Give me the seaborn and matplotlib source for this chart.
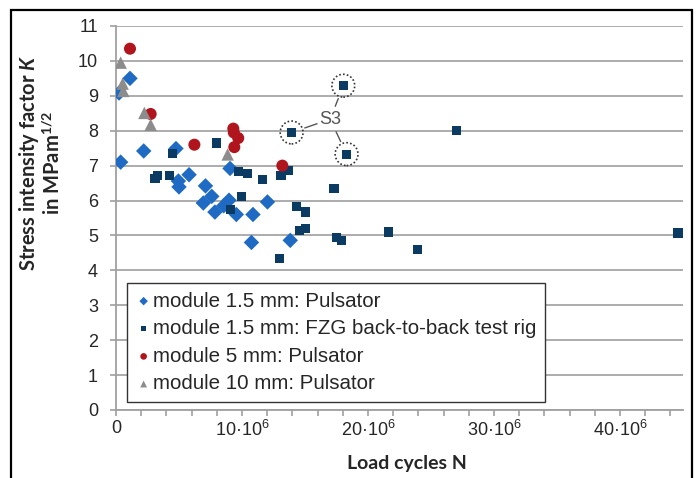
import numpy as np
import pandas as pd
import matplotlib
matplotlib.use("Agg")
import matplotlib.pyplot as plt
import matplotlib.ticker as mticker
from matplotlib.patches import Rectangle
import seaborn as sns

# Donnees (N en millions de cycles, K en MPa m^1/2)
puls15_N = [0.24, 0.37, 1.11, 2.2, 4.76, 4.95, 5.0, 5.8, 7.1, 7.6, 6.93, 7.85, 8.55,
            8.97, 9.05, 9.55, 10.87, 12.02, 10.75, 13.83]
puls15_K = [9.08, 7.10, 9.50, 7.42, 7.49, 6.56, 6.39, 6.74, 6.42, 6.12, 5.93, 5.67, 5.85,
            6.01, 6.92, 5.60, 5.60, 5.96, 4.80, 4.86]

fzg_N = [4.5, 7.98, 3.1, 3.28, 4.23, 9.72, 10.45, 11.6, 13.1, 13.7, 17.3, 9.97, 9.1,
         14.3, 15.03, 14.55, 15.05, 13.0, 17.5, 17.9, 21.6, 27.05, 23.9, 44.6,
         13.94, 18.04, 18.3]
fzg_K = [7.34, 7.65, 6.63, 6.72, 6.72, 6.84, 6.78, 6.60, 6.72, 6.86, 6.34, 6.11, 5.75,
         5.82, 5.67, 5.14, 5.20, 4.34, 4.94, 4.86, 5.10, 8.01, 4.60, 5.07,
         7.95, 9.29, 7.33]

puls5_N = [1.11, 2.75, 6.22, 9.31, 9.35, 9.7, 9.39, 13.2]
puls5_K = [10.35, 8.48, 7.60, 8.06, 7.95, 7.79, 7.53, 7.00]

puls10_N = [0.37, 0.53, 0.58, 2.25, 2.75, 8.86]
puls10_K = [9.95, 9.35, 9.14, 8.51, 8.17, 7.32]

# points S3 (entoures)
s3_N = [13.94, 18.04, 18.3]
s3_K = [7.95, 9.29, 7.33]

labels = ["module 1.5 mm: Pulsator",
          "module 1.5 mm: FZG back-to-back test rig",
          "module 5 mm: Pulsator",
          "module 10 mm: Pulsator"]

df = pd.concat([
    pd.DataFrame({"N": np.array(puls15_N) * 1e6, "K": puls15_K, "serie": labels[0]}),
    pd.DataFrame({"N": np.array(fzg_N) * 1e6, "K": fzg_K, "serie": labels[1]}),
    pd.DataFrame({"N": np.array(puls5_N) * 1e6, "K": puls5_K, "serie": labels[2]}),
    pd.DataFrame({"N": np.array(puls10_N) * 1e6, "K": puls10_K, "serie": labels[3]}),
])

sns.set_style("white")
plt.rcParams["font.family"] = ["Liberation Sans", "DejaVu Sans"]
plt.rcParams["mathtext.fontset"] = "custom"
plt.rcParams["mathtext.rm"] = "Liberation Sans"
plt.rcParams["mathtext.it"] = "Lato:italic:bold"
plt.rcParams["mathtext.bf"] = "Lato:bold"

palette = {labels[0]: "#1f6bc4", labels[1]: "#0b3a63",
           labels[2]: "#b0141c", labels[3]: "#8c8c8c"}
markers = {labels[0]: "D", labels[1]: "s", labels[2]: "o", labels[3]: "^"}
sizes = {labels[0]: 62, labels[1]: 44, labels[2]: 75, labels[3]: 80}

fig = plt.figure(figsize=(6.96, 4.78), dpi=100)
ax = fig.add_axes([116 / 696, 68 / 478, 567 / 696, 384 / 478])

for lab in labels:
    sub = df[df["serie"] == lab]
    sns.scatterplot(data=sub, x="N", y="K", color=palette[lab], marker=markers[lab],
                    s=sizes[lab], edgecolor="none", ax=ax, label=lab, zorder=3)

# cercles pointilles autour des points S3
ax.scatter(np.array(s3_N) * 1e6, s3_K, s=270, facecolors="none", edgecolors="#333333",
           linewidths=1.2, linestyles=(0, (1.0, 1.3)), zorder=4)
for n, k in zip(s3_N, s3_K):
    ax.annotate("", xy=(n * 1e6, k), xytext=(17.0e6, 8.33),
                arrowprops=dict(arrowstyle="-", color="#555555", lw=1.0,
                                shrinkA=10, shrinkB=10))
ax.text(17.0e6, 8.33, "S3", ha="center", va="center", fontsize=13, color="#555555")

ax.set_xlim(0, 45e6)
ax.set_ylim(0, 11)
ax.set_yticks(range(0, 12))
ax.xaxis.set_major_locator(mticker.MultipleLocator(10e6))
ax.xaxis.set_minor_locator(mticker.MultipleLocator(2e6))


def fmt_x(v, pos):
    if v == 0:
        return "0"
    return "%d·10$^{6}$" % round(v / 1e6)


ax.xaxis.set_major_formatter(mticker.FuncFormatter(fmt_x))
ax.grid(axis="y", color="#a6a6a6", lw=1.3)
ax.grid(axis="x", visible=False)
ax.set_axisbelow(True)
for side in ["top", "right"]:
    ax.spines[side].set_visible(False)
for side in ["left", "bottom"]:
    ax.spines[side].set_color("#a0a0a0")
    ax.spines[side].set_linewidth(1.3)
ax.tick_params(axis="y", which="major", direction="out", length=4, width=1.2,
               color="#a0a0a0", labelsize=13, pad=9, left=True)
ax.tick_params(axis="x", which="both", direction="out", length=4, width=1.2,
               color="#a0a0a0", labelsize=13, pad=3, bottom=True)

ax.set_xlabel("Load cycles N", fontsize=14, fontweight="bold", family="Lato")
ax.xaxis.set_label_coords(0.513, -0.118)
ax.set_ylabel("Stress intensity factor $K$\nin MPam$^{\\mathbf{1/2}}$", fontsize=14.5,
              fontweight="bold", family="Lato", linespacing=1.0)
ax.yaxis.set_label_coords(-0.092, 0.645)

leg = ax.legend(loc="upper left", bbox_to_anchor=(0.019, 0.331), fontsize=14.8,
                frameon=True, fancybox=False, edgecolor="#333333", framealpha=1,
                handletextpad=0.05, handlelength=0.8, labelspacing=0.42,
                borderpad=0.42, borderaxespad=0, markerscale=0.55)
leg.get_frame().set_linewidth(1.0)

# cadre exterieur
fig.patches.append(Rectangle((11 / 696, -0.1), 681 / 696, 1.1 - 10 / 478,
                             transform=fig.transFigure, fill=False,
                             edgecolor="black", lw=1.6))

fig.savefig("out.png", dpi=100)
